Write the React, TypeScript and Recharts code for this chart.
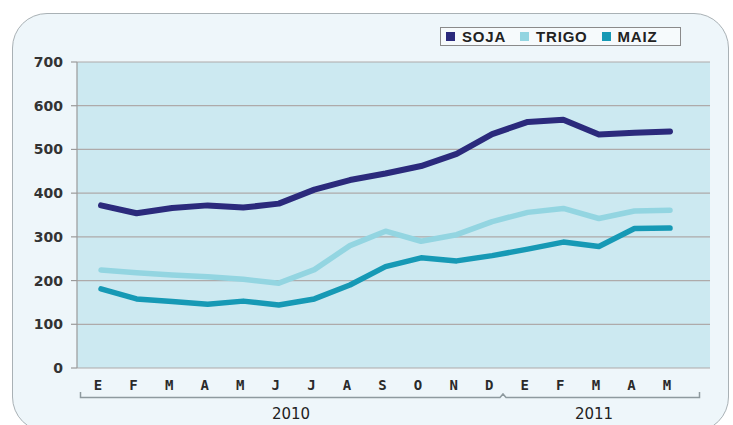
import React from 'react';
import { LineChart, Line, XAxis, YAxis, CartesianGrid } from 'recharts';

const months = ['E', 'F', 'M', 'A', 'M', 'J', 'J', 'A', 'S', 'O', 'N', 'D', 'E', 'F', 'M', 'A', 'M'];
const years = ['2010', '2011'];
const soja = [372, 354, 366, 372, 367, 376, 408, 430, 445, 462, 490, 535, 563, 568, 534, 538, 541];
const trigo = [224, 218, 213, 209, 203, 194, 225, 280, 313, 290, 305, 335, 356, 365, 342, 359, 361];
const maiz = [181, 158, 152, 146, 153, 144, 158, 190, 232, 252, 245, 257, 272, 288, 278, 319, 320];
const yTicks = [0, 100, 200, 300, 400, 500, 600, 700];

const seriesNames = ['SOJA', 'TRIGO', 'MAIZ'];
const seriesColors = ['#2b2a7c', '#93d5e1', '#1699b5'];

const data = months.map((m, i) => ({
  i: String(i),
  SOJA: soja[i],
  TRIGO: trigo[i],
  MAIZ: maiz[i],
}));

const MonthTick = (props: any) => {
  const { x, y, payload } = props;
  const label = months[Number(payload.value)];
  return (
    <text
      x={x - 3}
      y={y + 14}
      textAnchor="middle"
      fontFamily="'DejaVu Sans Mono', monospace"
      fontWeight="bold"
      fontSize={14}
      fill="#2a2a2a"
    >
      {label}
    </text>
  );
};

export default function App() {
  return (
    <div style={{ position: 'absolute', left: 0, top: 0, width: 733, height: 425, overflow: 'hidden', background: '#ffffff' }}>
      <div
        style={{
          position: 'absolute',
          left: 12,
          top: 13,
          width: 717,
          height: 419,
          border: '1.5px solid #a9b1b5',
          borderRadius: 35,
          background: '#eef6fa',
          boxSizing: 'border-box',
        }}
      />
      <div style={{ position: 'absolute', left: 0, top: 0 }}>
        <LineChart width={733} height={425} data={data} margin={{ top: 62, right: 23, bottom: 27, left: 0 }}>
          <CartesianGrid vertical={false} horizontal={true} stroke="#aeaaaa" strokeWidth={1.2} fill="#cce9f1" fillOpacity={1} />
          <XAxis
            dataKey="i"
            type="category"
            interval={0}
            height={30}
            padding={{ left: 24, right: 40 }}
            axisLine={false}
            tickLine={false}
            tick={<MonthTick />}
          />
          <YAxis
            width={77}
            domain={[0, 700]}
            ticks={yTicks}
            interval={0}
            axisLine={{ stroke: '#9a9a9a', strokeWidth: 1.2 }}
            tickLine={{ stroke: '#9a9a9a', strokeWidth: 1.2 }}
            tickSize={6}
            tickMargin={8}
            tick={{ fontFamily: "'DejaVu Sans', Verdana, sans-serif", fontSize: 14, fontWeight: 'bold', fill: '#333' }}
          />
          {seriesNames.map((name, k) => (
            <Line
              key={name}
              type="linear"
              dataKey={name}
              stroke={seriesColors[k]}
              strokeWidth={k === 0 ? 6 : 5.5}
              strokeLinecap="round"
              strokeLinejoin="round"
              dot={false}
              activeDot={false}
              isAnimationActive={false}
            />
          ))}
        </LineChart>
      </div>
      <svg width={733} height={425} style={{ position: 'absolute', left: 0, top: 0, pointerEvents: 'none' }}>
        <path d="M80.5 392 V397.5 H500 L503 394 L506 397.5 H699.5 V392" fill="none" stroke="#8e9a9f" strokeWidth={1.5} />
        <text x={291} y={419} textAnchor="middle" fontFamily="'DejaVu Sans', Verdana, sans-serif" fontSize={15} fill="#222">
          {years[0]}
        </text>
        <text x={594} y={419} textAnchor="middle" fontFamily="'DejaVu Sans', Verdana, sans-serif" fontSize={15} fill="#222">
          {years[1]}
        </text>
      </svg>
      <div
        style={{
          position: 'absolute',
          left: 440,
          top: 27,
          width: 241,
          height: 19,
          border: '1px solid #8a8a8a',
          background: '#f6fafc',
          boxSizing: 'border-box',
          display: 'flex',
          alignItems: 'center',
          paddingLeft: 5,
          fontFamily: "'Liberation Sans', Arial, sans-serif",
          fontWeight: 'bold',
          fontSize: 15,
          color: '#222',
          letterSpacing: 0.8,
        }}
      >
        {seriesNames.map((name, k) => (
          <div key={name} style={{ display: 'flex', alignItems: 'center', marginRight: k < 2 ? 14 : 0 }}>
            <div style={{ width: 9, height: 9, background: seriesColors[k], marginRight: 7 }} />
            <span style={{ lineHeight: '17px' }}>{name}</span>
          </div>
        ))}
      </div>
    </div>
  );
}
